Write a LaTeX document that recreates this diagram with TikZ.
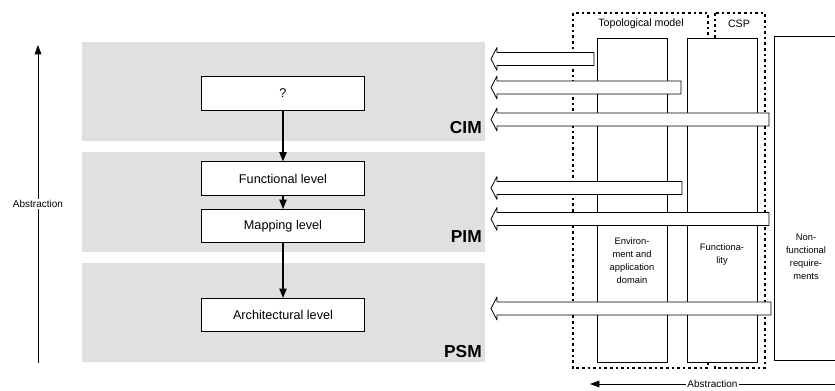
\documentclass[tikz,border=0pt]{standalone}
\usepackage{fontspec}
\setmainfont{Liberation Sans}
\usetikzlibrary{arrows.meta}
\definecolor{bandgray}{RGB}{224,224,224}

\begin{document}
\begin{tikzpicture}[
  x=0.75pt,y=-0.75pt,
  levelbox/.style={rectangle,draw=black,fill=white,line width=0.6pt,minimum width=122pt,minimum height=25pt,font=\fontsize{9.5}{11}\selectfont},
  modelname/.style={anchor=east,inner sep=0pt,font=\fontsize{13}{15}\selectfont\bfseries},
  flow/.style={-{Triangle[length=7pt,width=5.5pt]},line width=0.9pt},
  axis/.style={-{Triangle[length=7pt,width=5pt]},line width=0.5pt},
  axislabel/.style={fill=white,inner sep=1pt,font=\fontsize{7.5}{9}\selectfont},
  band/.style={fill=bandgray},
  region/.style={draw=black,line width=1.9pt,dash pattern=on 1.9pt off 2.3pt},
  column/.style={rectangle,draw=black,fill=white,line width=0.6pt,minimum width=52.5pt,minimum height=243pt},
  coltext/.style={align=center,font=\fontsize{7}{9.75}\selectfont},
  regiontext/.style={font=\fontsize{8}{9}\selectfont},
  blockarrow/.style={draw=black,fill=white,line width=0.6pt,line join=round}
]
\useasboundingbox (0,0) rectangle (835,391);
\clip (0,0) rectangle (835,391);

\fill[band] (82,42) rectangle (485,141);
\fill[band] (82,152) rectangle (485,252);
\fill[band] (82,263) rectangle (485,362);

\node[modelname] (cim) at (482,128) {CIM};
\node[modelname] (pim) at (482,237) {PIM};
\node[modelname] (psm) at (482,352) {PSM};

\node[levelbox] (unknown) at (283,93.5) {?};
\node[levelbox] (functional) at (283,178.5) {Functional level};
\node[levelbox] (mapping) at (283,226) {Mapping level};
\node[levelbox] (architectural) at (283,315) {Architectural level};

\draw[flow] (unknown) -- (functional);
\draw[flow] (functional) -- (mapping);
\draw[flow] (mapping) -- (architectural);

\coordinate (absbottom) at (38,363);
\coordinate (abstop) at (38,45);
\draw[axis] (absbottom) -- node[axislabel] (vertlabel) {Abstraction} (abstop);

\draw[region] (573,13) rectangle (708,368);
\draw[region] (715,13) rectangle (765,368);

\node[column] (envcol) at (632,200) {};
\node[column] (funccol) at (722,200) {};
\node[column,minimum width=50pt] (nfcol) at (808,198.5) {};

\foreach \yc/\xr in {59/594,87.5/681,119.5/769,188/682,219/769,308.5/771}
  \draw[blockarrow] (\xr,\yc-6.5) -- (497,\yc-6.5) -- (497,\yc-11.5) -- (491,\yc)
    -- (497,\yc+11.5) -- (497,\yc+6.5) -- (\xr,\yc+6.5) -- cycle;

\node[regiontext] (topolabel) at (641,24) {Topological model};
\node[regiontext] (csplabel) at (739,24) {CSP};

\node[coltext] (envtext) at (632,261) {Environ-\\ment and\\application\\domain};
\node[coltext] (functext) at (722,255) {Functiona-\\lity};
\node[coltext] (nftext) at (806,257) {Non-\\functional\\require-\\ments};

\coordinate (absright) at (835,384);
\coordinate (absleft) at (590,384);
\draw[axis] (absright) -- node[axislabel] (horizlabel) {Abstraction} (absleft);

\end{tikzpicture}
\end{document}
